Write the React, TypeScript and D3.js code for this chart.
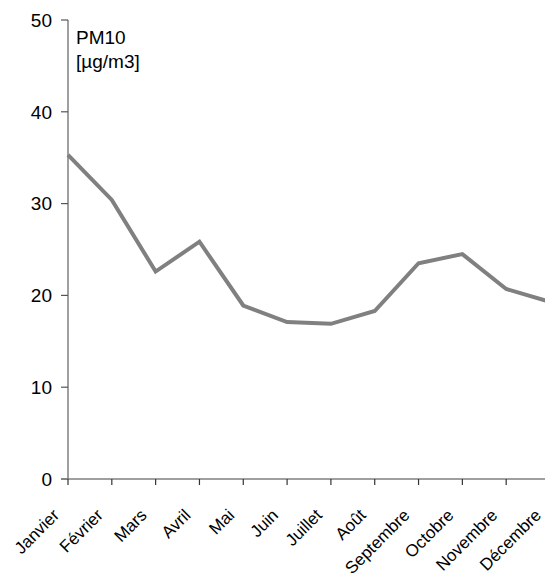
import React from "react";
import * as d3 from "d3";

const months = ["Janvier", "Février", "Mars", "Avril", "Mai", "Juin", "Juillet", "Août", "Septembre", "Octobre", "Novembre", "Décembre"];
const pm10 = [35.3, 30.4, 22.6, 25.85, 18.9, 17.1, 16.9, 18.3, 23.5, 24.5, 20.7, 19.3];
const yTicks = [0, 10, 20, 30, 40, 50];
const unitLines = ["PM10", "[µg/m3]"];

const W = 545;
const H = 582;
const FONT = "'Liberation Sans', Arial, sans-serif";
const FS = 19;
const FS_X = 17;

export default function App() {
  const x = d3.scalePoint<string>().domain(months).range([68, 550]);
  const y = d3.scaleLinear().domain([0, 50]).range([479, 20]);
  const line = d3
    .line<number>()
    .x((_, i) => x(months[i]) as number)
    .y((d) => y(d));
  const axisColor = "#7f7f7f";
  return (
    <svg width={W} height={H} style={{ position: "absolute", left: 0, top: 0, background: "#fff" }} fontFamily={FONT}>
      <rect x={0} y={0} width={W} height={H} fill="#fff" />
      {/* y axis */}
      <line x1={68} x2={68} y1={y(50)} y2={y(0)} stroke={axisColor} strokeWidth={1.5} />
      {yTicks.map((t) => (
        <g key={t}>
          <line x1={61} x2={68} y1={y(t)} y2={y(t)} stroke="#555" strokeWidth={1.2} />
          <text x={52} y={y(t)} dy="0.36em" textAnchor="end" fontSize={FS} fill="#000">
            {t}
          </text>
        </g>
      ))}
      {/* x axis */}
      <line x1={61} x2={W} y1={y(0)} y2={y(0)} stroke={axisColor} strokeWidth={1.5} />
      {months.map((m) => {
        const px = x(m) as number;
        return (
          <g key={m}>
            <line x1={px} x2={px} y1={y(0)} y2={y(0) + 6} stroke="#333" strokeWidth={1.2} />
            <text
              transform={`translate(${px - 12},${y(0) + 33}) rotate(-45)`}
              textAnchor="end"
              dy="0.35em"
              fontSize={FS_X}
              fill="#000"
            >
              {m}
            </text>
          </g>
        );
      })}
      {/* data line */}
      <path d={line(pm10) || ""} fill="none" stroke="#808080" strokeWidth={4} strokeLinejoin="miter" />
      {/* unit label */}
      {unitLines.map((s, i) => (
        <text key={s} x={76} y={44 + i * 24} fontSize={FS} fill="#000">
          {s}
        </text>
      ))}
    </svg>
  );
}
